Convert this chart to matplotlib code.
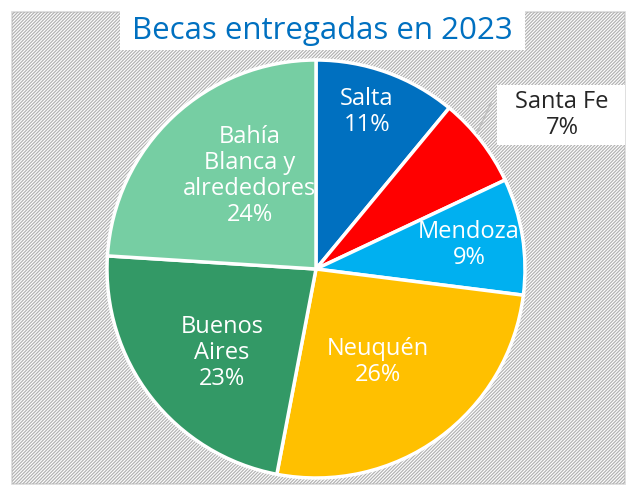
import matplotlib.pyplot as plt
from matplotlib.patches import Rectangle

# Becas por sede (porcentaje del total)
sedes = ["Salta", "Santa Fe", "Mendoza", "Neuquén", "Buenos\nAires", "Bahía\nBlanca y\nalrededores"]
porcentajes = [11, 7, 9, 26, 23, 24]
colores = ["#0070C0", "#FF0000", "#00B0F0", "#FFC000", "#339966", "#76CEA3"]

plt.rcParams['font.family'] = ['Open Sans', 'DejaVu Sans']
plt.rcParams['hatch.color'] = '#B3B3B3'
plt.rcParams['hatch.linewidth'] = 0.9

W, H = 633, 486
fig = plt.figure(figsize=(W / 100, H / 100), dpi=100)
ax = fig.add_axes([0, 0, 1, 1])

# fondo rayado del área del gráfico
ax.add_patch(Rectangle((12, 2), 613, 472, facecolor='white', edgecolor='#D9D9D9',
                       linewidth=1.2, zorder=0))
ax.add_patch(Rectangle((12, 2), 613, 472, facecolor='none', edgecolor='#B3B3B3',
                       hatch='/' * 10, linewidth=0, zorder=0))

wedges, _ = ax.pie(porcentajes, colors=colores, startangle=90, counterclock=False,
                   center=(316, 217), radius=209,
                   wedgeprops=dict(edgecolor='white', linewidth=2.5))
ax.set_xlim(0, W)
ax.set_ylim(0, H)
ax.set_aspect('equal')
ax.axis('off')

# etiquetas dentro de las porciones
pos_etiquetas = {0: (367, 374), 2: (469, 241), 3: (378, 124), 4: (222, 133), 5: (250, 310)}
for i, (x, y) in pos_etiquetas.items():
    ax.text(x, y, f"{sedes[i]}\n{porcentajes[i]}%", ha='center', va='center',
            color='white', fontsize=17, linespacing=1.1, zorder=5)

# Santa Fe fuera de la torta, con línea guía
ax.plot([477, 491], [353, 383], color='#BFBFBF', linewidth=1.2, zorder=4)
ax.add_patch(Rectangle((497, 341), 128, 60, facecolor='white', edgecolor='none', zorder=4))
ax.text(562, 371, f"{sedes[1]}\n{porcentajes[1]}%", ha='center', va='center',
        color='#262626', fontsize=17, linespacing=1.1, zorder=5)

# título
ax.add_patch(Rectangle((120, 436), 405, 40, facecolor='white', edgecolor='none', zorder=4))
ax.text(322, 455, "Becas entregadas en 2023", ha='center', va='center',
        color='#0070C0', fontsize=22.5, zorder=5)

fig.savefig("out.png", dpi=100)
